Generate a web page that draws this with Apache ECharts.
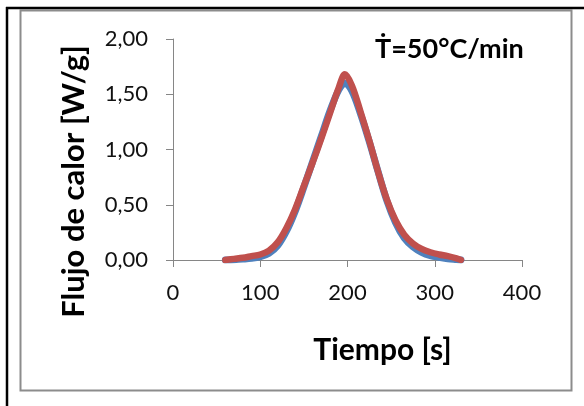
<!DOCTYPE html>
<html>
<head>
<meta charset="utf-8">
<script src="https://cdn.jsdelivr.net/npm/echarts@6/dist/echarts.min.js"></script>
<style>
  html, body { margin: 0; padding: 0; background: #fff; }
  #chart { width: 584px; height: 406px; }
</style>
</head>
<body>
<div id="chart"></div>
<script>
// Tiempo [s]
const tiempo = [60, 70, 80, 90, 100, 110, 120, 130, 140, 150, 160, 170, 180, 190, 197,
                205, 215, 225, 235, 245, 255, 265, 275, 285, 295, 305, 315, 325, 330];
// Flujo de calor [W/g], curva azul
const flujoAzul = [0.00, 0.003, 0.008, 0.015, 0.03, 0.06, 0.13, 0.26, 0.44, 0.66, 0.89, 1.12, 1.35, 1.54, 1.60,
                   1.53, 1.32, 1.07, 0.80, 0.54, 0.34, 0.20, 0.12, 0.07, 0.04, 0.025, 0.012, 0.004, 0.00];
// Flujo de calor [W/g], curva roja
const flujoRojo = [0.00, 0.01, 0.02, 0.035, 0.05, 0.085, 0.16, 0.29, 0.46, 0.67, 0.88, 1.10, 1.33, 1.56, 1.68,
                   1.58, 1.34, 1.08, 0.80, 0.55, 0.36, 0.23, 0.15, 0.10, 0.07, 0.05, 0.035, 0.015, 0.00];
const ticksX = [0, 100, 200, 300, 400];
const ticksY = [0, 0.5, 1.0, 1.5, 2.0];

const pares = (ys) => tiempo.map((t, i) => [t, ys[i]]);
const fuente = 'Lato, "Open Sans", sans-serif';
const gris = '#868686';

const chart = echarts.init(document.getElementById('chart'), null, { renderer: 'canvas' });
chart.setOption({
  animation: false,
  backgroundColor: '#fff',
  title: {
    text: 'Ṫ=50°C/min',
    left: 370,
    top: 31,
    textStyle: { fontFamily: fuente, fontSize: 27, fontWeight: 'bold', color: '#000' }
  },
  grid: { left: 173, right: 62, top: 39, bottom: 146, containLabel: false },
  xAxis: {
    type: 'value',
    min: ticksX[0],
    max: ticksX[ticksX.length - 1],
    interval: 100,
    name: 'Tiempo [s]',
    nameLocation: 'middle',
    nameGap: 75,
    nameTextStyle: { fontFamily: fuente, fontSize: 30, fontWeight: 'bold', color: '#000', padding: [0, 0, 0, 70] },
    axisLine: { show: true, onZero: false, lineStyle: { color: gris, width: 1 } },
    axisTick: { show: true, inside: false, length: 7, lineStyle: { color: gris } },
    axisLabel: { fontFamily: fuente, fontSize: 22, color: '#111', margin: 22 },
    splitLine: { show: false }
  },
  yAxis: {
    type: 'value',
    min: ticksY[0],
    max: ticksY[ticksY.length - 1],
    interval: 0.5,
    name: 'Flujo de calor [W/g]',
    nameLocation: 'middle',
    nameGap: 84,
    nameTextStyle: { fontFamily: fuente, fontSize: 31, fontWeight: 'bold', color: '#000', padding: [0, 64, 0, 0] },
    axisLine: { show: true, lineStyle: { color: gris, width: 1 } },
    axisTick: { show: true, inside: false, length: 7, lineStyle: { color: gris } },
    axisLabel: {
      fontFamily: fuente, fontSize: 22, color: '#111', margin: 25,
      formatter: (v) => v.toFixed(2).replace('.', ',')
    },
    splitLine: { show: false }
  },
  series: [
    {
      name: 'Curva azul',
      type: 'line',
      data: pares(flujoAzul),
      smooth: 0.35,
      showSymbol: false,
      lineStyle: { color: '#4F81BD', width: 7, cap: 'round' },
      z: 2
    },
    {
      name: 'Curva roja',
      type: 'line',
      data: pares(flujoRojo),
      smooth: 0.35,
      showSymbol: false,
      lineStyle: { color: '#C0504D', width: 6.5, cap: 'round' },
      z: 3
    }
  ],
  graphic: [
    // marco gris del área del gráfico
    { type: 'rect', shape: { x: 20.5, y: 10.5, width: 551, height: 380 }, style: { fill: null, stroke: '#8c8c8c', lineWidth: 2 }, silent: true },
    // bordes negros superior e izquierdo
    { type: 'line', shape: { x1: 6, y1: 8, x2: 584, y2: 8 }, style: { stroke: '#000', lineWidth: 2.5 }, silent: true },
    { type: 'line', shape: { x1: 7, y1: 7, x2: 7, y2: 406 }, style: { stroke: '#000', lineWidth: 2.5 }, silent: true }
  ]
});
</script>
</body>
</html>
